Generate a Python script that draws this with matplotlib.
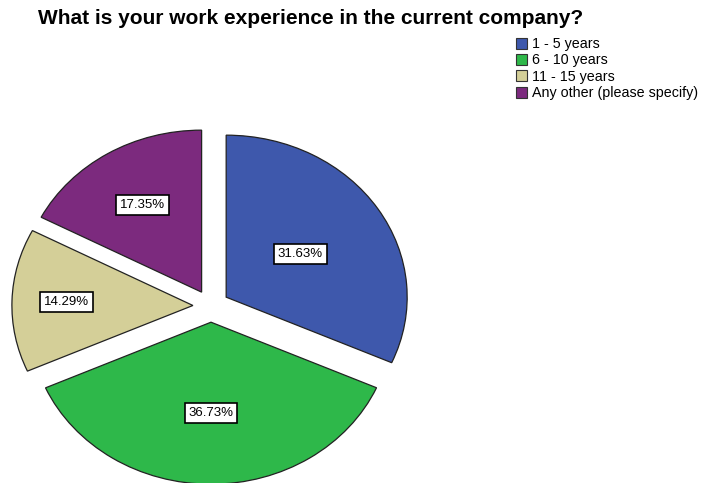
import numpy as np
import matplotlib
matplotlib.use('Agg')
import matplotlib.pyplot as plt
from matplotlib.patches import Patch

# Data
categories = ['1 - 5 years', '6 - 10 years', '11 - 15 years', 'Any other (please specify)']
percentages = [31.63, 36.73, 14.29, 17.35]
colors = ['#3E58AC', '#2EB84A', '#D4CF98', '#7C2A7E']

# layout (pixels of the 707x483 image)
W, H = 707, 483
cx, cy = 211, 306        # pie centre
rx, ry = 181, 162        # the pie is a bit wider than tall
explode = 0.1
label_dist = [0.49, 0.56, 0.70, 0.63]

plt.rcParams['font.family'] = ['Liberation Sans', 'DejaVu Sans']

fig = plt.figure(figsize=(W / 100, H / 100), dpi=100)
ax = fig.add_axes([0, 0, 1, 1])

wedges, _ = ax.pie(percentages, colors=colors, startangle=90, counterclock=False,
                   explode=[explode] * len(percentages),
                   wedgeprops=dict(edgecolor='#222222', linewidth=0.9))

ax.set_aspect('auto')
ax.set_xlim(-cx / rx, (W - cx) / rx)
ax.set_ylim(-(H - cy) / ry, cy / ry)
ax.axis('off')

# percentage labels in white boxes
for w, pct, d in zip(wedges, percentages, label_dist):
    mid = np.deg2rad((w.theta1 + w.theta2) / 2)
    r = explode + d
    ax.text(r * np.cos(mid), r * np.sin(mid), '%.2f%%' % pct,
            ha='center', va='center', fontsize=9.5,
            bbox=dict(boxstyle='square,pad=0.3', facecolor='white',
                      edgecolor='black', linewidth=1.2))

fig.text(38 / W, 1 - 19 / H, 'What is your work experience in the current company?',
         fontsize=15, fontweight='bold', ha='left', va='center')

handles = [Patch(facecolor=c, edgecolor='#333333', linewidth=0.8) for c in colors]
fig.legend(handles, categories, loc='upper left', bbox_to_anchor=(516 / W, 1 - 37 / H),
           frameon=False, fontsize=10.3, handlelength=0.8, handleheight=0.8,
           handletextpad=0.3, labelspacing=0.17, borderaxespad=0, borderpad=0)

fig.savefig('out.png', dpi=100)
